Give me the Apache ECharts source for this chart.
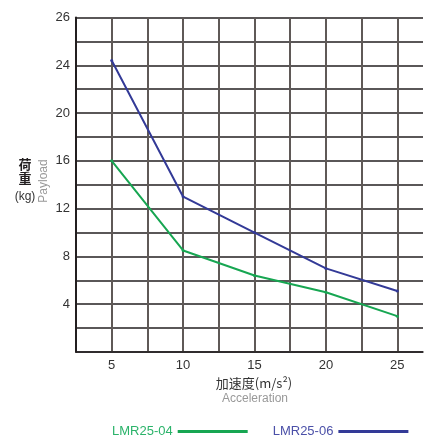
<!DOCTYPE html>
<html>
<head>
<meta charset="utf-8">
<script src="https://cdn.jsdelivr.net/npm/echarts@6/dist/echarts.min.js"></script>
<style>html,body{margin:0;padding:0;background:#fff}#c{width:426px;height:435px}</style>
</head>
<body>
<div id="c"></div>
<script>
const accel = [5, 10, 15, 20, 25];
const lmr2504 = [16, 8.5, 6.4, 5, 3];
const lmr2506 = [24.4, 13, 10, 7, 5.1];
const seriesNames = ['LMR25-04', 'LMR25-06'];
const yLabelMap = {4: '4', 8: '8', 12: '12', 16: '16', 20: '20', 24: '24', 28: '26'};

const green = '#17a652';
const blue = '#333a97';
const font = '"Liberation Sans", Arial, sans-serif';

const chart = echarts.init(document.getElementById('c'), null, {renderer: 'canvas'});
chart.setOption({
  animation: false,
  backgroundColor: '#fff',
  grid: {left: 76, top: 17.5, right: 0, bottom: 83, containLabel: false},
  xAxis: {
    type: 'value', min: 2.5, max: 26.8, interval: 2.5,
    axisLine: {show: true, lineStyle: {color: '#231f20', width: 1.5}},
    axisTick: {show: false},
    axisLabel: {
      color: '#333', fontSize: 13, fontFamily: font, margin: 7,
      formatter: v => (Math.abs(v % 5) < 1e-9 && v <= 25) ? String(v) : ''
    },
    splitLine: {show: true, showMaxLine: false, lineStyle: {color: '#5f5957', width: 2}}
  },
  yAxis: {
    type: 'value', min: 0, max: 28, interval: 2,
    axisLine: {show: true, lineStyle: {color: '#231f20', width: 2}},
    axisTick: {show: false},
    axisLabel: {
      color: '#333', fontSize: 13, fontFamily: font, margin: 6,
      formatter: v => yLabelMap[v] || ''
    },
    splitLine: {show: true, lineStyle: {color: '#231f20', width: 1.5}}
  },
  legend: {
    left: 107, top: 420, align: 'right', itemWidth: 70, itemHeight: 3,
    itemGap: 25, icon: 'rect',
    textStyle: {fontSize: 13, fontFamily: font},
    data: [
      {name: seriesNames[0], textStyle: {color: '#2bb36a'}},
      {name: seriesNames[1], textStyle: {color: '#4b50a8'}}
    ]
  },
  series: [
    {name: seriesNames[0], type: 'line', data: accel.map((x, i) => [x, lmr2504[i]]),
     color: green, lineStyle: {width: 2, color: green}, symbol: 'circle', symbolSize: 3,
     itemStyle: {color: green}},
    {name: seriesNames[1], type: 'line', data: accel.map((x, i) => [x, lmr2506[i]]),
     color: blue, lineStyle: {width: 2, color: blue}, symbol: 'circle', symbolSize: 3,
     itemStyle: {color: blue}}
  ],
  graphic: [
    {type: 'text', x: 25, y: 164, style: {text: '荷', font: 'bold 13px "Noto Sans CJK SC"', fill: '#231f20', align: 'center', verticalAlign: 'middle'}},
    {type: 'text', x: 25, y: 178, style: {text: '重', font: 'bold 13px "Noto Sans CJK SC"', fill: '#231f20', align: 'center', verticalAlign: 'middle'}},
    {type: 'text', x: 25, y: 197, style: {text: '(kg)', font: '12px ' + font, fill: '#333', align: 'center', verticalAlign: 'middle'}},
    {type: 'text', x: 44, y: 181, rotation: Math.PI / 2,
     style: {text: 'Payload', font: '12px ' + font, fill: '#999', align: 'center', verticalAlign: 'middle'}},
    {type: 'text', x: 254, y: 383, style: {text: '加速度(m/s²)', font: '13px "Noto Sans CJK SC"', fill: '#333', align: 'center', verticalAlign: 'middle'}},
    {type: 'text', x: 255, y: 399, style: {text: 'Acceleration', font: '12px ' + font, fill: '#999', align: 'center', verticalAlign: 'middle'}}
  ]
});
</script>
</body>
</html>
